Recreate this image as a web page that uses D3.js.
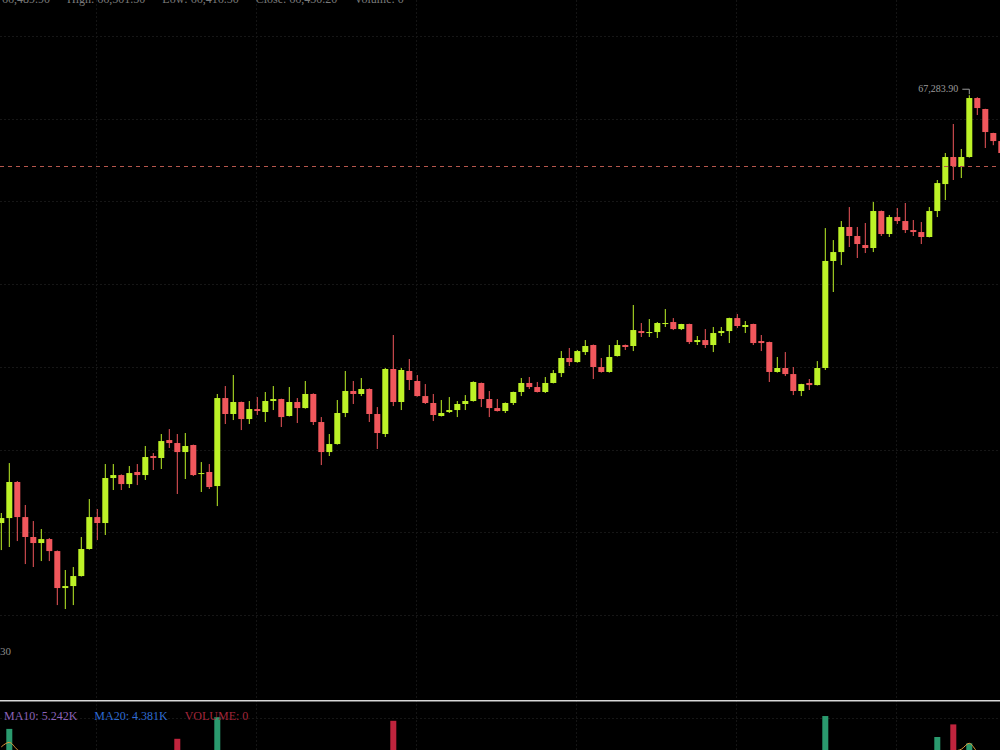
<!DOCTYPE html>
<html>
<head>
<meta charset="utf-8">
<script src="https://cdn.jsdelivr.net/npm/d3@7"></script>
<style>
  html, body { margin: 0; padding: 0; background: #000; overflow: hidden; }
</style>
</head>
<body>
<div id="chart"></div>
<script>
// candle data (prices in USD)
const opens = [62112,62172,62608,62184,61943,61870,61918,61773,61326,61350,
  61471,61798,62184,62112,62656,62692,62583,62729,62692,62922,
  62898,63115,63079,62970,63055,62704,62729,62559,63623,63430,
  63575,63369,63490,63454,63587,63611,63406,63575,63502,63672,
  63333,62970,63067,63442,63708,63672,63732,63430,63188,63974,
  63575,63950,63829,63647,63563,63406,63454,63478,63551,63587,
  63805,63611,63502,63466,63563,63696,63805,63756,63696,63805,
  63925,64107,64058,64179,64264,63998,63938,64131,64264,64252,
  64433,64409,64421,64518,64542,64457,64518,64300,64324,64264,
  64409,64433,64590,64482,64518,64312,64300,63938,63986,63913,
  63708,63805,63780,63986,65280,65388,65691,65582,65473,65437,
  65884,65606,65811,65763,65654,65630,65570,65884,66210,66537,
  66416,66537,67250,67117,66827,66730];
const highs = [62233,62837,62620,62330,62136,62039,61930,61780,61544,61580,
  61943,62402,62281,62825,62825,62700,62801,62825,63043,62958,
  63188,63248,63188,63200,63060,62849,62825,63672,63768,63901,
  63580,63587,63635,63696,63768,63615,63756,63623,63829,63680,
  63393,63188,63599,63950,63829,63865,63740,63514,63986,64385,
  63986,64095,63901,63792,63672,63599,63635,63587,63659,63825,
  63810,63708,63611,63570,63700,63865,63877,63817,63877,63962,
  64191,64228,64204,64324,64270,64107,64264,64324,64270,64748,
  64530,64578,64542,64699,64590,64520,64522,64373,64457,64482,
  64482,64594,64639,64554,64522,64385,64305,64119,64179,63998,
  63795,63853,64070,65678,65533,65763,65932,65691,65739,65993,
  65890,65836,65920,65981,65775,65751,65932,66259,66585,66936,
  66634,67283.9,67260,67120,66830,66740];
const lows = [61785,61822,61894,61616,61580,61652,61652,61120,61072,61120,
  61465,61790,61906,61967,62511,62511,62535,62571,62632,62753,
  62765,63019,62463,62644,62680,62487,62523,62317,63309,63357,
  63236,63309,63418,63333,63478,63273,63400,63321,63495,63297,
  62813,62922,63060,63393,63551,63647,63333,63007,63152,63526,
  63478,63720,63640,63551,63345,63400,63442,63393,63478,63580,
  63514,63393,63460,63442,63539,63647,63732,63690,63684,63800,
  63877,64010,64050,64143,63853,63930,63930,64125,64204,64191,
  64361,64361,64349,64482,64445,64445,64276,64264,64228,64179,
  64373,64288,64470,64409,64264,64191,63817,63930,63889,63659,
  63647,63720,63775,63962,64905,65231,65449,65316,65376,65388,
  65582,65570,65727,65618,65582,65485,65565,65811,66017,66259,
  66283,66530,67045,66646,66680,66560];
const closes = [62172,62608,62184,61943,61870,61918,61773,61326,61350,61471,
  61798,62184,62112,62656,62692,62583,62716,62692,62910,62898,
  63103,63079,62970,63043,62692,62716,62547,63623,63430,63575,
  63369,63490,63466,63587,63611,63393,63575,63502,63672,63333,
  62970,63067,63442,63708,63672,63732,63430,63200,63974,63575,
  63962,63841,63647,63563,63418,63442,63478,63551,63587,63817,
  63611,63502,63466,63563,63696,63805,63756,63696,63805,63925,
  64107,64058,64191,64252,63998,63938,64119,64264,64240,64445,
  64409,64421,64530,64530,64457,64518,64300,64324,64264,64409,
  64433,64590,64494,64506,64288,64288,63938,63986,63913,63708,
  63792,63780,63986,65280,65388,65691,65582,65485,65437,65884,
  65606,65811,65763,65654,65630,65570,65884,66222,66537,66428,
  66537,67250,67129,66839,66730,66585];
// volume in thousands; most bars sit below the visible edge
const volumes = [4.8,7.9,2.6,4.2,3.1,2.4,2.9,4.6,3.8,2.7,
  3.3,4.1,2.2,4.4,2.0,1.8,2.3,1.9,3.0,1.7,
  2.8,2.1,6.8,3.5,3.2,2.0,2.6,9.2,3.9,3.4,
  2.5,2.1,1.6,2.4,1.9,2.7,2.2,1.8,2.9,3.1,
  4.3,2.6,3.7,4.0,2.3,1.9,3.4,3.8,5.1,8.8,
  4.2,3.0,2.6,2.2,2.9,1.7,1.5,1.8,1.6,2.8,
  2.3,2.5,1.7,1.9,2.4,2.6,1.8,1.6,2.0,2.2,
  3.1,2.4,2.0,2.3,3.6,2.1,2.7,2.5,1.4,3.9,
  2.2,1.9,1.6,2.4,1.8,1.5,2.9,1.3,2.0,2.2,
  1.4,2.6,2.1,1.5,3.0,2.3,4.4,2.1,2.6,3.5,
  2.8,1.9,3.3,9.33,4.1,3.6,3.9,2.8,2.2,4.0,
  3.1,2.7,2.0,2.9,1.8,3.0,3.0,7.0,5.2,8.4,
  4.6,6.3,2.5,3.8,2.9,2.4];
const prevVolumes = [5.4, 6.6, 7.2, 5.5]; // bars just left of the view, for MA5

const priceTicks = [61000, 62000, 63000, 64000, 65000, 66000, 67000, 68000];
const xTickIdx = [12, 32, 52, 72, 92, 112];
const lastPrice = 66430.2;
const maxLabel = "67,283.90";
const minLabel = "30";
const header = ["66,489.90", "High: 66,501.50", "Low: 66,416.50", "Close: 66,430.20", "Volume: 0"];
const volLegend = [["MA10: 5.242K", "#8b62b8"], ["MA20: 4.381K", "#2f6bd2"], ["VOLUME: 0", "#a3263a"]];

const width = 1000, height = 750;
const up = "#bdf227", down = "#f0575c";
const volUp = "#2a9a6e", volDown = "#c0243d";

const svg = d3.select("#chart").append("svg")
  .attr("width", width)
  .attr("height", height)
  .style("display", "block")
  .style("background", "#000")
  .attr("font-family", "'Liberation Serif', 'DejaVu Serif', serif");

const x = d3.scaleLinear().domain([0, opens.length - 1]).range([1.3, 1.3 + 8 * (opens.length - 1)]);
const y = d3.scaleLinear().domain([61000, 68000]).range([615, 36]);
const yVol = d3.scaleLinear().domain([0, 10]).range([800, 710]);
const bodyW = 6;

// grid
svg.append("g")
  .selectAll("line")
  .data(priceTicks)
  .join("line")
  .attr("x1", 0).attr("x2", width)
  .attr("y1", d => Math.round(y(d)) + 0.5)
  .attr("y2", d => Math.round(y(d)) + 0.5)
  .attr("stroke", "#161616")
  .attr("stroke-dasharray", "2,2");

svg.append("g")
  .selectAll("line")
  .data(xTickIdx)
  .join("line")
  .attr("x1", d => Math.round(x(d)) - 0.5)
  .attr("x2", d => Math.round(x(d)) - 0.5)
  .attr("y1", 0).attr("y2", height)
  .attr("stroke", "#141414")
  .attr("stroke-dasharray", "2,2");

// volume pane grid
svg.append("line")
  .attr("x1", 0).attr("x2", width)
  .attr("y1", 718.5).attr("y2", 718.5)
  .attr("stroke", "#161616")
  .attr("stroke-dasharray", "2,2");

// candles
const candles = svg.append("g")
  .selectAll("g")
  .data(d3.range(opens.length))
  .join("g")
  .attr("fill", i => closes[i] >= opens[i] ? up : down)
  .attr("stroke", i => closes[i] >= opens[i] ? up : down);

candles.append("line")
  .attr("x1", i => x(i)).attr("x2", i => x(i))
  .attr("y1", i => y(highs[i]))
  .attr("y2", i => y(lows[i]))
  .attr("stroke-width", 1);

candles.append("rect")
  .attr("x", i => x(i) - bodyW / 2)
  .attr("width", bodyW)
  .attr("y", i => y(Math.max(opens[i], closes[i])))
  .attr("height", i => Math.max(1, Math.abs(y(opens[i]) - y(closes[i]))))
  .attr("stroke", "none");

// last price line
svg.append("line")
  .attr("x1", 0).attr("x2", width)
  .attr("y1", Math.round(y(lastPrice)) + 0.5)
  .attr("y2", Math.round(y(lastPrice)) + 0.5)
  .attr("stroke", "#b5564c")
  .attr("stroke-dasharray", "4,4");

// max mark
const iMax = d3.maxIndex(highs);
const mx = x(iMax), my = y(highs[iMax]);
svg.append("path")
  .attr("d", `M${mx - 7},${my - 6} H${mx} V${my - 1}`)
  .attr("fill", "none")
  .attr("stroke", "#9a9a9a");
svg.append("text")
  .attr("x", mx - 11).attr("y", my - 3)
  .attr("text-anchor", "end")
  .attr("font-size", 10)
  .attr("fill", "#9a9a9a")
  .text(maxLabel);

svg.append("text")
  .attr("x", 0).attr("y", 655)
  .attr("font-size", 11)
  .attr("fill", "#8a8a8a")
  .text(minLabel);

// volume bars
svg.append("g")
  .selectAll("rect")
  .data(d3.range(volumes.length))
  .join("rect")
  .attr("x", i => x(i) - bodyW / 2)
  .attr("width", bodyW)
  .attr("y", i => yVol(volumes[i]))
  .attr("height", i => yVol(0) - yVol(volumes[i]))
  .attr("fill", i => closes[i] >= opens[i] ? volUp : volDown);

// MA5 of volume
const allVol = prevVolumes.concat(volumes);
const ma5 = volumes.map((v, i) => d3.mean(allVol.slice(i, i + 5)));
svg.append("path")
  .datum(ma5)
  .attr("fill", "none")
  .attr("stroke", "#e39a3b")
  .attr("stroke-width", 1)
  .attr("d", d3.line().x((d, i) => x(i)).y(d => yVol(d)).curve(d3.curveMonotoneX));

// pane separator drawn over the bars
svg.append("rect")
  .attr("x", 0).attr("y", 700)
  .attr("width", width).attr("height", 1.5)
  .attr("fill", "#d8d8d8");

// volume legend
let lx = 4;
volLegend.forEach(([t, c]) => {
  const el = svg.append("text")
    .attr("x", lx).attr("y", 720)
    .attr("font-size", 12)
    .attr("fill", c)
    .text(t);
  lx += el.node().getComputedTextLength() + 17;
});

// crosshair tooltip line at the top (cut by the edge, as in the reference)
let hx = 2;
header.forEach(t => {
  const el = svg.append("text")
    .attr("x", hx).attr("y", 3)
    .attr("font-size", 12)
    .attr("fill", "#7a7a7a")
    .text(t);
  hx += el.node().getComputedTextLength() + 17;
});
</script>
</body>
</html>
